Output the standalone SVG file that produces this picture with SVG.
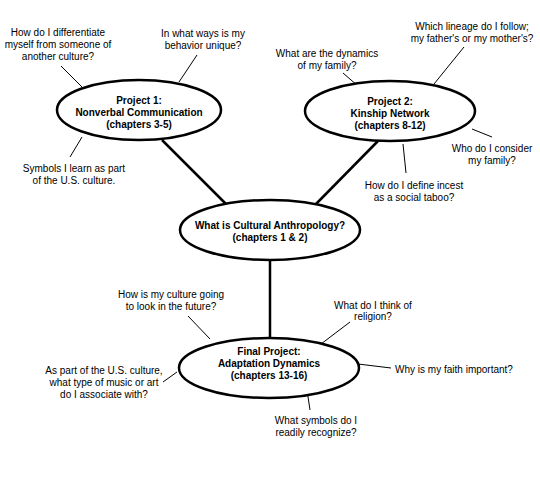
<svg xmlns="http://www.w3.org/2000/svg" width="540" height="480" viewBox="0 0 540 480">
<style>
.n{fill:#fff;stroke:#000;stroke-width:2.5}
.t{font-family:"Liberation Sans",Arial,sans-serif;font-size:10px;fill:#000;text-anchor:middle}
.b{font-weight:bold}
.thick{stroke:#000;stroke-width:2.5;fill:none}
.thin{stroke:#000;stroke-width:1;fill:none}
</style>
<rect width="540" height="480" fill="#fff"/>
<g id="connectors">
<line class="thick" x1="162" y1="140" x2="226" y2="204"/>
<line class="thick" x1="378" y1="141" x2="316" y2="204"/>
<line class="thick" x1="270" y1="261" x2="270" y2="339"/>
<line class="thin" x1="61" y1="66" x2="85" y2="90"/>
<line class="thin" x1="197" y1="55" x2="179" y2="82"/>
<line class="thin" x1="70" y1="157" x2="82" y2="137"/>
<line class="thin" x1="343" y1="73" x2="358" y2="86"/>
<line class="thin" x1="464" y1="47" x2="434" y2="84"/>
<line class="thin" x1="472" y1="129" x2="492" y2="137"/>
<line class="thin" x1="403" y1="144" x2="406" y2="173"/>
<line class="thin" x1="188" y1="316" x2="210" y2="339"/>
<line class="thin" x1="350" y1="322" x2="321" y2="344"/>
<line class="thin" x1="358" y1="364" x2="391" y2="368"/>
<line class="thin" x1="163" y1="382" x2="177" y2="372"/>
<line class="thin" x1="307" y1="390" x2="310" y2="410"/>
</g>
<g id="project1">
<ellipse class="n" cx="139" cy="110" rx="82" ry="30"/>
<text class="t b" x="139" y="104">Project 1:</text>
<text class="t b" x="139" y="116">Nonverbal Communication</text>
<text class="t b" x="139" y="128">(chapters 3-5)</text>
</g>
<g id="project2">
<ellipse class="n" cx="390" cy="111" rx="85" ry="30"/>
<text class="t b" x="390" y="105">Project 2:</text>
<text class="t b" x="390" y="117">Kinship Network</text>
<text class="t b" x="390" y="129">(chapters 8-12)</text>
</g>
<g id="center">
<ellipse class="n" cx="270" cy="230" rx="90" ry="30"/>
<text class="t b" x="270" y="229">What is Cultural Anthropology?</text>
<text class="t b" x="270" y="241">(chapters 1 &amp; 2)</text>
</g>
<g id="final">
<ellipse class="n" cx="269" cy="368" rx="90" ry="30"/>
<text class="t b" x="269" y="355">Final Project:</text>
<text class="t b" x="269" y="367">Adaptation Dynamics</text>
<text class="t b" x="269" y="379">(chapters 13-16)</text>
</g>
<g id="q-differentiate"><text class="t" x="58" y="36">How do I differentiate</text><text class="t" x="58" y="48">myself from someone of</text><text class="t" x="58" y="60">another culture?</text></g>
<g id="q-unique"><text class="t" x="203" y="37">In what ways is my</text><text class="t" x="203" y="49">behavior unique?</text></g>
<g id="q-symbols-learn"><text class="t" x="74" y="172">Symbols I learn as part</text><text class="t" x="74" y="184">of the U.S. culture.</text></g>
<g id="q-dynamics"><text class="t" x="327" y="57">What are the dynamics</text><text class="t" x="327" y="69">of my family?</text></g>
<g id="q-lineage"><text class="t" x="472" y="30">Which lineage do I follow;</text><text class="t" x="472" y="42">my father's or my mother's?</text></g>
<g id="q-consider"><text class="t" x="492" y="152">Who do I consider</text><text class="t" x="492" y="164">my family?</text></g>
<g id="q-incest"><text class="t" x="414" y="189">How do I define incest</text><text class="t" x="414" y="201">as a social taboo?</text></g>
<g id="q-future"><text class="t" x="171" y="298">How is my culture going</text><text class="t" x="171" y="310">to look in the future?</text></g>
<g id="q-religion"><text class="t" x="373" y="309">What do I think of</text><text class="t" x="373" y="320">religion?</text></g>
<g id="q-faith"><text class="t" x="454" y="373">Why is my faith important?</text></g>
<g id="q-music"><text class="t" x="104" y="374">As part of the U.S. culture,</text><text class="t" x="104" y="386">what type of music or art</text><text class="t" x="104" y="398">do I associate with?</text></g>
<g id="q-recognize"><text class="t" x="316" y="424">What symbols do I</text><text class="t" x="316" y="436">readily recognize?</text></g>
</svg>
